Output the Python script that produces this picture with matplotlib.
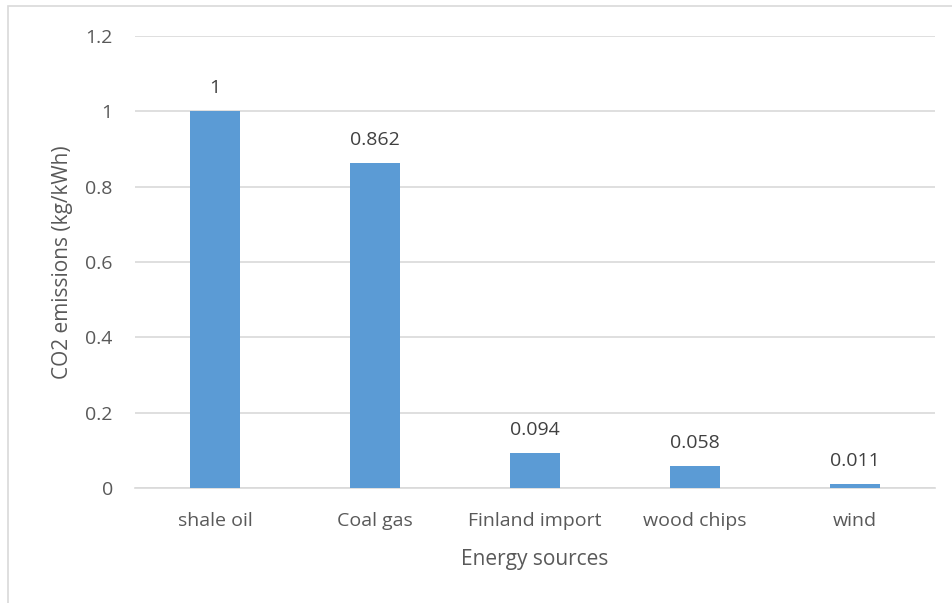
import matplotlib.pyplot as plt
from matplotlib.patches import Rectangle

sources = ['shale oil', 'Coal gas', 'Finland import', 'wood chips', 'wind']
emissions = [1, 0.862, 0.094, 0.058, 0.011]
yticks = [0, 0.2, 0.4, 0.6, 0.8, 1, 1.2]
ytick_labels = ['0', '0.2', '0.4', '0.6', '0.8', '1', '1.2']

plt.rcParams['font.family'] = ['Open Sans', 'DejaVu Sans']
txt = '#595959'
grid = '#D9D9D9'

W, H = 952, 603
fig = plt.figure(figsize=(W / 100, H / 100), dpi=100)
# plot area in pixel terms: x 135..935, y 36..488
ax = fig.add_axes([135 / W, 1 - 488 / H, 800 / W, 452 / H])

# outer chart border (only top and left edges fall inside the image)
fig.patches.append(Rectangle((8 / W, -0.1), 1.2, 1 - 6 / H + 0.1,
                             transform=fig.transFigure, fill=False,
                             edgecolor='#D9D9D9', linewidth=1.2))

x = range(len(sources))
bars = ax.bar(x, emissions, width=0.31, color='#5B9BD5', zorder=3)

for xi, v in zip(x, emissions):
    ax.annotate(f'{v:g}', (xi, v), xytext=(0, 10), textcoords='offset points',
                ha='center', va='bottom', fontsize=14, color='#404040')

ax.set_xlim(-0.5, 4.5)
ax.set_ylim(0, 1.2)
ax.set_yticks(yticks)
ax.set_yticklabels(ytick_labels)
ax.set_xticks(list(x))
ax.set_xticklabels(sources)
ax.tick_params(axis='both', length=0, labelsize=14, labelcolor=txt)
ax.tick_params(axis='y', pad=16)
ax.tick_params(axis='x', pad=17)
ax.grid(axis='y', color=grid, linewidth=1.2, zorder=0)
for side in ['top', 'right', 'left']:
    ax.spines[side].set_visible(False)
ax.spines['bottom'].set_color(grid)
ax.spines['bottom'].set_linewidth(1.2)

ax.set_ylabel('CO2 emissions (kg/kWh)', fontsize=15, color=txt, labelpad=9)
ax.set_xlabel('Energy sources', fontsize=15, color=txt, labelpad=14)

fig.savefig('out.png', dpi=100)
